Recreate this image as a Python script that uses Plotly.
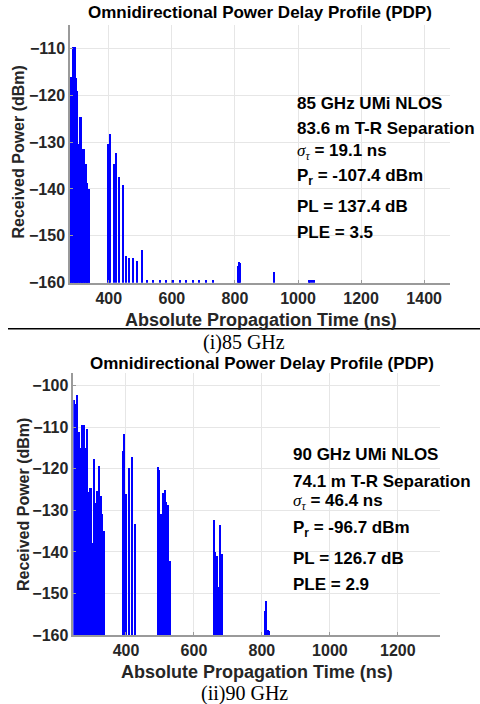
import numpy as np
import plotly.graph_objects as go

FLOOR = -160

# ---------------- 85 GHz data ----------------
t85_dense = [277, 279, 281, 283, 285, 287, 289, 291, 293, 295, 297, 299, 301, 303, 305, 307,
             309, 311, 313, 315, 317, 319, 321, 323, 325, 327, 329, 331, 333, 335, 337, 339]
p85_dense = [-119.8, -119.8, -116.2, -116.2, -125.8, -109.6, -109.6, -109.6, -109.6, -116.4,
             -116.4, -119.1, -119.1, -130.5, -130.5, -124.6, -124.6, -124.6, -131.4, -131.4,
             -131.4, -131.4, -131.4, -134.6, -134.6, -134.6, -138.8, -138.8, -138.8, -139.9,
             -139.9, -139.9]
t85_sparse = [397, 401, 404, 416, 423, 432, 444, 455, 466, 478, 490, 506, 809, 814, 818, 924]
p85_sparse = [-130.3, -140.5, -128.2, -134.6, -132.3, -137.4, -139.1, -154.3, -154.8, -154.8,
              -155.3, -153.0, -156.4, -155.5, -155.8, -157.8]
t85_floor = [521, 541, 562, 583, 604, 625, 646, 667, 688, 709, 730, 1034, 1040, 1046, 1052]
p85_floor = [-159.4, -159.4, -159.4, -159.4, -159.4, -159.4, -159.4, -159.4, -159.4, -159.4,
             -159.4, -159.4, -159.4, -159.4, -159.4]

# ---------------- 90 GHz data ----------------
t90_dense = [247, 252, 257, 262, 267, 272, 277, 282, 287, 292, 297, 302, 307, 312, 317, 322,
             327, 332, 337]
p90_dense = [-103.4, -104.5, -102.4, -111.1, -115.0, -109.6, -109.6, -115.0, -110.4, -125.7,
             -124.6, -138.0, -117.7, -128.3, -125.4, -119.3, -126.5, -131.0, -135.0]
t90_sparse = [392, 396, 401, 409, 418, 428,
              495, 499, 503, 507, 511, 516, 520, 525, 531,
              660, 664, 669, 673, 678, 683,
              809, 813, 818, 823]
p90_sparse = [-115.7, -111.7, -126.2, -119.8, -117.2, -133.4,
              -119.7, -120.3, -130.9, -136.0, -125.9, -125.1, -128.1, -128.7, -142.2,
              -132.4, -140.0, -141.0, -148.4, -133.7, -140.6,
              -154.2, -151.8, -158.9, -159.0]

xticks85 = [400, 600, 800, 1000, 1200, 1400]
yticks85 = [-160, -150, -140, -130, -120, -110]
xticks90 = [400, 600, 800, 1000, 1200]
yticks90 = [-160, -150, -140, -130, -120, -110, -100]

title_text = "Omnidirectional Power Delay Profile (PDP)"
xlabel = "Absolute Propagation Time (ns)"
ylabel = "Received Power (dBm)"
info85 = ["85 GHz UMi NLOS", "83.6 m T-R Separation",
          "<span style='font-family:Liberation Serif;font-weight:normal'><i>σ</i><sub><i>τ</i></sub></span> = 19.1 ns",
          "P<sub>r</sub> = -107.4 dBm", "PL = 137.4 dB", "PLE = 3.5"]
info90 = ["90 GHz UMi NLOS", "74.1 m T-R Separation",
          "<span style='font-family:Liberation Serif;font-weight:normal'><i>σ</i><sub><i>τ</i></sub></span> = 46.4 ns",
          "P<sub>r</sub> = -96.7 dBm", "PL = 126.7 dB", "PLE = 2.9"]

W, H = 480, 704
BLUE = "#0000ff"
SANS = "Liberation Sans"


def px(x):
    return x / W


def py(y):
    return 1 - y / H


fig = go.Figure()


def add_bars(t, p, width, xa, ya):
    fig.add_trace(go.Bar(x=t, y=np.array(p) - FLOOR, base=FLOOR, width=width,
                         marker=dict(color=BLUE, line=dict(width=0)),
                         xaxis=xa, yaxis=ya, showlegend=False))


add_bars(t85_dense, p85_dense, 2.1, "x", "y")
add_bars(t85_sparse, p85_sparse, 4.0, "x", "y")
add_bars(t85_floor, p85_floor, 4.0, "x", "y")
add_bars(t90_dense, p90_dense, 5.1, "x2", "y2")
add_bars(t90_sparse, p90_sparse, 3.8, "x2", "y2")

axis_common = dict(showgrid=True, gridcolor="#e6e6e6", gridwidth=1,
                   showline=True, linecolor="#9a9a9a", linewidth=1.5,
                   ticks="inside", ticklen=3, tickcolor="#9a9a9a",
                   tickfont=dict(family=SANS, size=16, color="#262626", weight="bold"),
                   zeroline=False, mirror=False, automargin=False)

fig.update_layout(
    width=W, height=H, margin=dict(l=0, r=0, t=0, b=0, autoexpand=False),
    paper_bgcolor="white", plot_bgcolor="white", barmode="overlay", bargap=0,
    xaxis=dict(domain=[px(70), px(450)], range=[277, 1482], tickvals=xticks85,
               anchor="y", **axis_common),
    yaxis=dict(domain=[py(282.7), py(25)], range=[-160, -105], tickvals=yticks85,
               anchor="x", **axis_common),
    xaxis2=dict(domain=[px(73.3), px(440)], range=[245, 1324], tickvals=xticks90,
                anchor="y2", **axis_common),
    yaxis2=dict(domain=[py(635), py(373.3)], range=[-160, -97], tickvals=yticks90,
                anchor="x2", **axis_common),
)

ann = []


def text(x, y, s, size, family=SANS, bold=True, xanchor="center", angle=0, color="#262626"):
    ann.append(dict(x=px(x), y=py(y), xref="paper", yref="paper", text=s, showarrow=False,
                    xanchor=xanchor, yanchor="middle", textangle=angle,
                    font=dict(family=family, size=size, color=color,
                              weight="bold" if bold else "normal")))


# titles
text(260, 13, title_text, 17, color="black")
text(261.5, 363.5, title_text, 17, color="black")
# axis titles
text(261, 320, xlabel, 18)
text(256.7, 671.7, xlabel, 18)
text(17.5, 152, ylabel, 16, angle=-90)
text(23, 505, ylabel, 16, angle=-90)
# info text
for s, y in zip(info85, [104, 128.3, 151.7, 176.7, 206.7, 232.7]):
    text(295, y, s, 17, xanchor="left", color="black")
for s, y in zip(info90, [454.3, 481, 502.3, 529.3, 558.3, 584.3]):
    text(290.7, y, s, 17, xanchor="left", color="black")
# captions
text(244, 342, "(i)85 GHz", 20, family="Liberation Serif", bold=False, color="black")
text(245, 693, "(ii)90 GHz", 20, family="Liberation Serif", bold=False, color="black")

fig.update_layout(annotations=ann)
fig.add_shape(type="line", xref="paper", yref="paper", x0=px(8), x1=1, y0=py(328.7), y1=py(328.7),
              line=dict(color="black", width=1.5))

fig.write_html("out.html", config={"displayModeBar": False},
               post_script="document.body.style.margin='0';document.body.style.padding='0';")
